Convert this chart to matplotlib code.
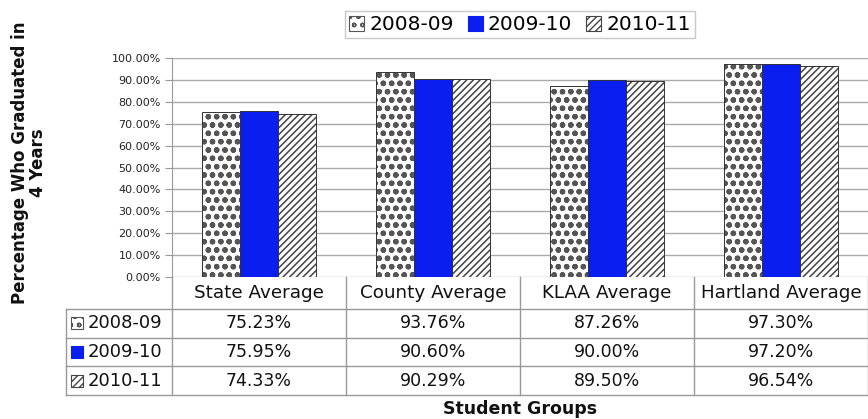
import numpy as np
import matplotlib.pyplot as plt
from matplotlib.patches import Rectangle

plt.rcParams['font.family'] = ['DejaVu Sans']

groups = ["State Average", "County Average", "KLAA Average", "Hartland Average"]
years = ["2008-09", "2009-10", "2010-11"]
rate_0809 = [75.23, 93.76, 87.26, 97.30]
rate_0910 = [75.95, 90.60, 90.00, 97.20]
rate_1011 = [74.33, 90.29, 89.50, 96.54]
series = [rate_0809, rate_0910, rate_1011]

styles = [
    dict(facecolor="white", edgecolor="#555555", hatch="oo", hlw=1.6),
    dict(facecolor="#0a1ef0", edgecolor="#0a1ef0", hatch=None, hlw=1.0),
    dict(facecolor="white", edgecolor="#444444", hatch="/////", hlw=1.1),
]

fig = plt.figure(figsize=(8.68, 4.19), dpi=100)
ax = fig.add_axes([172 / 868, 1 - 277 / 419, 1 - 172 / 868, (277 - 58) / 419])

x = np.arange(len(groups))
w = 0.22
for k, vals in enumerate(series):
    st = styles[k]
    with plt.rc_context({"hatch.linewidth": st["hlw"]}):
        ax.bar(x + (k - 1) * w, vals, w, facecolor=st["facecolor"], edgecolor=st["edgecolor"],
               hatch=st["hatch"], linewidth=0.0, label=years[k], zorder=3)
    ax.bar(x + (k - 1) * w, vals, w, facecolor="none", edgecolor="#333333", linewidth=0.7, zorder=4)

ax.set_xlim(-0.5, len(groups) - 0.5)
ax.set_ylim(0, 100)
ticks = np.arange(0, 101, 10)
ax.set_yticks(ticks)
ax.set_yticklabels([f"{t:.2f}%" for t in ticks], fontsize=8, color="#222222")
ax.set_xticks([])
ax.grid(axis="y", color="#aaaaaa", linewidth=1.0, zorder=0)
for s in ["top", "right", "bottom"]:
    ax.spines[s].set_visible(False)
ax.spines["left"].set_color("#999999")
ax.tick_params(axis="y", length=5, color="#999999", pad=3)

fig.text(29 / 868, 1 - 163 / 419, "Percentage Who Graduated in\n4 Years", rotation=90,
         ha="center", va="center", fontsize=12, fontweight="bold", color="#111111",
         linespacing=1.05)

# legend
handles = []
for st in styles:
    with plt.rc_context({"hatch.linewidth": min(st["hlw"], 1.0)}):
        handles.append(Rectangle((0, 0), 1, 1, facecolor=st["facecolor"], edgecolor=st["edgecolor"],
                                 hatch=st["hatch"], linewidth=0.8))
leg = ax.legend(handles, years, loc="lower center", bbox_to_anchor=(0.5, 1.09), ncol=3,
                fontsize=14.5, frameon=True, fancybox=False, handlelength=0.75, handleheight=0.75,
                handletextpad=0.25, columnspacing=0.7, borderpad=0.2, borderaxespad=0)
leg.get_frame().set_edgecolor("#bbbbbb")
leg.get_frame().set_linewidth(1.0)

# data table under the plot
ftrans = fig.transFigure
line_kw = dict(color="#999999", linewidth=1.0)
y_top = 1 - 277 / 419
y_head = 1 - 309 / 419
row_h = 28.7 / 419
y_rows = [y_head - i * row_h for i in range(len(years) + 1)]
x_left = 66 / 868


def col_x(v):
    return ax.transData.transform((v, 0))[0] / fig.bbox.width


for i in range(len(groups) + 1):
    xi = col_x(i - 0.5)
    fig.add_artist(plt.Line2D([xi, xi], [y_top, y_rows[-1]], transform=ftrans, **line_kw))
for yy in y_rows:
    fig.add_artist(plt.Line2D([x_left, 1], [yy, yy], transform=ftrans, **line_kw))
fig.add_artist(plt.Line2D([x_left, x_left], [y_rows[0], y_rows[-1]], transform=ftrans, **line_kw))

for i, g in enumerate(groups):
    fig.text(col_x(i), (y_top + y_head) / 2, g, ha="center", va="center",
             fontsize=13.2, color="#111111")
for r, vals in enumerate(series):
    yc = (y_rows[r] + y_rows[r + 1]) / 2
    for i, v in enumerate(vals):
        fig.text(col_x(i), yc, f"{v:.2f}%", ha="center", va="center",
                 fontsize=12.5, color="#111111")
    st = styles[r]
    sw = 12 / 868
    sh = 12 / 419
    with plt.rc_context({"hatch.linewidth": min(st["hlw"], 1.0)}):
        fig.add_artist(Rectangle((71 / 868, yc - sh / 2), sw, sh, transform=ftrans,
                                 facecolor=st["facecolor"], edgecolor=st["edgecolor"],
                                 hatch=st["hatch"], linewidth=0.8))
    fig.text(88 / 868, yc, years[r], ha="left", va="center", fontsize=13, color="#111111")

fig.text(col_x(1.5), 1 - 409 / 419, "Student Groups", ha="center", va="center",
         fontsize=12.5, fontweight="bold", color="#111111")

fig.savefig("out.png", dpi=100)
